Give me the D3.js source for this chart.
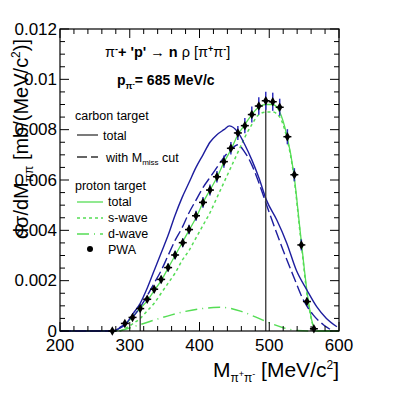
<!doctype html>
<html lang="en">
<head>
  <meta charset="utf-8">
  <title>pi- p -> n pi+ pi-</title>
  <script src="https://cdn.jsdelivr.net/npm/d3@7"></script>
  <style>
    body{margin:0;background:#fff}
    text{font-family:"Liberation Sans",Arial,sans-serif;fill:#000}
  </style>
</head>
<body>
<div id="container"></div>
<script>
// PWA points (proton target)
var pwaX = [275, 293, 304, 315, 325, 335, 345, 355, 365, 376, 385, 395, 405, 415, 425, 435, 445, 455, 465, 475, 485, 495, 505, 515, 526, 536, 546, 554, 564];
var pwaY = [0, 0.0003, 0.00054, 0.00089, 0.00126, 0.00166, 0.00205, 0.00252, 0.00302, 0.00351, 0.00403, 0.00458, 0.00511, 0.0056, 0.00613, 0.00673, 0.00726, 0.00787, 0.00816, 0.0086, 0.00894, 0.00915, 0.00911, 0.00889, 0.00772, 0.00621, 0.00342, 0.00117, 0.00009];
var pwaErr = [0.00005, 0.00008, 0.0001, 0.00012, 0.00013, 0.00014, 0.00015, 0.00016, 0.00017, 0.00018, 0.00019, 0.0002, 0.00021, 0.00022, 0.00023, 0.00024, 0.00025, 0.00028, 0.0003, 0.00032, 0.00035, 0.00036, 0.00036, 0.00034, 0.0003, 0.00026, 0.00022, 0.00015, 0.00008];

// carbon target, total
var carbTotX = [200, 275, 285, 295, 305, 315, 325, 335, 345, 355, 365, 375, 385, 395, 405, 415, 425, 435, 443, 455, 465, 475, 485, 496, 511, 525, 539, 554, 568, 582, 597];
var carbTotY = [0, 0, 0.0001, 0.0003, 0.0007, 0.0011, 0.0017, 0.0024, 0.0031, 0.0038, 0.0046, 0.0053, 0.0059, 0.0065, 0.007, 0.0075, 0.0078, 0.008, 0.00815, 0.0079, 0.0074, 0.0068, 0.0061, 0.0052, 0.0044, 0.0035, 0.0024, 0.00163, 0.00097, 0.0005, 0.00017];
// carbon target, with Mmiss cut
var carbCutX = [200, 278, 286, 295, 305, 315, 325, 335, 345, 355, 365, 375, 385, 395, 405, 415, 425, 435, 445, 455, 465, 475, 485, 495, 504, 520, 535, 549, 563, 578, 587];
var carbCutY = [0, 0, 0.00015, 0.0003, 0.00057, 0.00095, 0.0014, 0.0019, 0.0024, 0.003, 0.0036, 0.0041, 0.0047, 0.0052, 0.0057, 0.0061, 0.0065, 0.0069, 0.0072, 0.0074, 0.0071, 0.0066, 0.0059, 0.0051, 0.0044, 0.0032, 0.00216, 0.00123, 0.00064, 0.00024, 0.00007];

// proton target, total / s-wave / d-wave
var protTotX = [200, 280, 285, 295, 305, 315, 325, 335, 345, 355, 365, 375, 385, 395, 405, 415, 425, 435, 445, 455, 465, 475, 485, 495, 505, 515, 525, 535, 545, 555, 563, 566, 600];
var protTotY = [0, 0, 0.0001, 0.0003, 0.0006, 0.0009, 0.0012, 0.0016, 0.002, 0.0025, 0.003, 0.0035, 0.004, 0.0045, 0.0051, 0.0056, 0.0061, 0.0067, 0.0072, 0.0078, 0.0082, 0.0086, 0.0089, 0.009, 0.009, 0.0087, 0.0078, 0.0063, 0.0038, 0.0014, 0.0002, 0, 0];
var sWaveX = [200, 285, 295, 305, 315, 325, 335, 345, 355, 365, 375, 385, 395, 405, 415, 425, 435, 445, 455, 465, 475, 485, 495, 505, 515, 525, 535, 545, 555, 563, 566, 600];
var sWaveY = [0, 0, 0.00012, 0.0003, 0.0005, 0.0008, 0.0011, 0.0015, 0.0019, 0.0023, 0.0028, 0.0032, 0.0037, 0.0042, 0.0047, 0.0053, 0.0059, 0.0065, 0.0071, 0.0077, 0.0082, 0.0086, 0.0087, 0.0087, 0.0085, 0.0077, 0.0062, 0.0037, 0.0013, 0.0002, 0, 0];
var dWaveX = [285, 300, 320, 340, 360, 380, 400, 420, 430, 440, 460, 480, 500, 520, 540, 560, 600];
var dWaveY = [0, 0.00012, 0.0003, 0.00048, 0.00064, 0.00078, 0.00088, 0.00093, 0.00094, 0.00092, 0.00078, 0.00056, 0.00033, 0.00013, 0.00002, 0, 0];

// marker lines
var markX = [315, 495];
var markTop = [0.00088, 0.0092];

var xTicks = [200, 300, 400, 500, 600];
var yTicks = [0, 0.002, 0.004, 0.006, 0.008, 0.01, 0.012];

var W = 399, H = 397;
var blue = "#1d1d9e", green = "#55dd55";

var svg = d3.select("#container").append("svg").attr("width", W).attr("height", H);

var x = d3.scaleLinear().domain([200, 600]).range([60, 339]),
    y = d3.scaleLinear().domain([0, 0.012]).range([331, 29]);

function pts(xs, ys) { return xs.map(function (v, i) { return [v, ys[i]]; }); }
var line = d3.line().x(function (d) { return x(d[0]); }).y(function (d) { return y(d[1]); }).curve(d3.curveMonotoneX);

var g = svg.append("g");

// curves
g.append("path").attr("d", line(pts(dWaveX, dWaveY))).attr("fill", "none").attr("stroke", green).attr("stroke-width", 1.5).attr("stroke-dasharray", "12,5,1,5");
g.append("path").attr("d", line(pts(sWaveX, sWaveY))).attr("fill", "none").attr("stroke", green).attr("stroke-width", 1.5).attr("stroke-dasharray", "3,3");
g.append("path").attr("d", line(pts(protTotX, protTotY))).attr("fill", "none").attr("stroke", green).attr("stroke-width", 1.3);
g.append("path").attr("d", line(pts(carbTotX, carbTotY))).attr("fill", "none").attr("stroke", blue).attr("stroke-width", 1.4);
g.append("path").attr("d", line(pts(carbCutX, carbCutY))).attr("fill", "none").attr("stroke", blue).attr("stroke-width", 1.4).attr("stroke-dasharray", "11,4");

// vertical marker lines
g.selectAll("line.mark").data(markX).enter().append("line").attr("class", "mark")
  .attr("x1", function (d) { return x(d); }).attr("x2", function (d) { return x(d); })
  .attr("y1", y(0)).attr("y2", function (d, i) { return y(markTop[i]); })
  .attr("stroke", "#333").attr("stroke-width", 1.3);

// PWA points
var pwa = pts(pwaX, pwaY);
g.selectAll("line.err").data(pwa).enter().append("line").attr("class", "err")
  .attr("x1", function (d) { return x(d[0]); }).attr("x2", function (d) { return x(d[0]); })
  .attr("y1", function (d, i) { return y(d[1] - pwaErr[i]); }).attr("y2", function (d, i) { return y(d[1] + pwaErr[i]); })
  .attr("stroke", "#3030c0").attr("stroke-width", 1.5);
g.selectAll("line.xerr").data(pwa).enter().append("line").attr("class", "xerr")
  .attr("x1", function (d) { return x(d[0]) - 4; }).attr("x2", function (d) { return x(d[0]) + 4; })
  .attr("y1", function (d) { return y(d[1]); }).attr("y2", function (d) { return y(d[1]); })
  .attr("stroke", "#000").attr("stroke-width", 1.5);
g.selectAll("path.pt").data(pwa).enter().append("path").attr("class", "pt")
  .attr("d", d3.symbol().type(d3.symbolDiamond).size(26))
  .attr("transform", function (d) { return "translate(" + x(d[0]) + "," + y(d[1]) + ")"; })
  .attr("fill", "#000");

// frame and ticks (ROOT style, ticks inside, mirrored)
svg.append("rect").attr("x", 60).attr("y", 29).attr("width", 279).attr("height", 302)
  .attr("fill", "none").attr("stroke", "#000").attr("stroke-width", 1.2);

var xMinor = d3.range(200, 601, 20), yMinor = d3.range(0, 0.01201, 0.0005);
xMinor.forEach(function (v) {
  var L = (v % 100 === 0) ? 9 : 5;
  svg.append("line").attr("x1", x(v)).attr("x2", x(v)).attr("y1", 331).attr("y2", 331 - L).attr("stroke", "#000");
  svg.append("line").attr("x1", x(v)).attr("x2", x(v)).attr("y1", 29).attr("y2", 29 + L).attr("stroke", "#000");
});
yMinor.forEach(function (v, i) {
  var L = (i % 4 === 0) ? 9 : 5;
  svg.append("line").attr("x1", 60).attr("x2", 60 + L).attr("y1", y(v)).attr("y2", y(v)).attr("stroke", "#000");
  svg.append("line").attr("x1", 339).attr("x2", 339 - L).attr("y1", y(v)).attr("y2", y(v)).attr("stroke", "#000");
});

// tick labels
svg.selectAll("text.xt").data(xTicks).enter().append("text").attr("class", "xt")
  .attr("x", function (d) { return x(d); }).attr("y", 351).attr("text-anchor", "middle")
  .style("font-size", "17px").text(function (d) { return d; });
svg.selectAll("text.yt").data(yTicks).enter().append("text").attr("class", "yt")
  .attr("x", 57).attr("y", function (d) { return y(d) + 5.5; }).attr("text-anchor", "end")
  .style("font-size", "17px").text(function (d) { return d3.format("")(+d.toFixed(3)); });

// axis titles
var xt = svg.append("text").attr("x", 339).attr("y", 377).attr("text-anchor", "end").style("font-size", "21px");
xt.append("tspan").text("M");
xt.append("tspan").attr("dy", 5).style("font-size", "12px").text("\u03c0");
xt.append("tspan").attr("dy", -5).style("font-size", "9px").text("+");
xt.append("tspan").attr("dy", 5).style("font-size", "12px").text("\u03c0");
xt.append("tspan").attr("dy", -5).style("font-size", "9px").text("-");
xt.append("tspan").attr("dy", 0).text(" [MeV/c");
xt.append("tspan").attr("dy", -8).style("font-size", "12px").text("2");
xt.append("tspan").attr("dy", 8).text("]");

var yt = svg.append("text").attr("transform", "translate(28,139) rotate(-90)").attr("text-anchor", "middle").style("font-size", "20px");
yt.append("tspan").text("d\u03c3/dM");
yt.append("tspan").attr("dy", 5).style("font-size", "12px").text("\u03c0\u03c0");
yt.append("tspan").attr("dy", -5).text(" [mb/(MeV/c");
yt.append("tspan").attr("dy", -8).style("font-size", "12px").text("2");
yt.append("tspan").attr("dy", 8).text(")]");

// reaction label
var t1 = svg.append("text").attr("x", 105).attr("y", 57).style("font-size", "14.5px").style("font-weight", "bold");
t1.append("tspan").style("font-weight", "normal").text("\u03c0");
t1.append("tspan").attr("dy", -5).style("font-size", "9px").text("-");
t1.append("tspan").attr("dy", 5).text("+ 'p' ");
t1.append("tspan").style("font-weight", "normal").text("\u2192");
t1.append("tspan").text(" n ");
t1.append("tspan").style("font-weight", "normal").text("\u03c1 [\u03c0");
t1.append("tspan").attr("dy", -5).style("font-size", "9px").text("+");
t1.append("tspan").attr("dy", 5).style("font-weight", "normal").text("\u03c0");
t1.append("tspan").attr("dy", -5).style("font-size", "9px").text("-");
t1.append("tspan").attr("dy", 5).style("font-weight", "normal").text("]");

var t2 = svg.append("text").attr("x", 117).attr("y", 85).style("font-size", "14px").style("font-weight", "bold");
t2.append("tspan").text("p");
t2.append("tspan").attr("dy", 4).style("font-size", "9px").text("\u03c0");
t2.append("tspan").attr("dy", -3).style("font-size", "7px").text("-");
t2.append("tspan").attr("dy", -1).text("= 685 MeV/c");

// legend
var lg = svg.append("g").style("font-size", "12.5px");
lg.append("text").attr("x", 75).attr("y", 120).text("carbon target");
lg.append("line").attr("x1", 77).attr("x2", 98).attr("y1", 135).attr("y2", 135).attr("stroke", "#333").attr("stroke-width", 1.3);
lg.append("text").attr("x", 103).attr("y", 140).text("total");
lg.append("line").attr("x1", 77).attr("x2", 98).attr("y1", 157).attr("y2", 157).attr("stroke", "#333").attr("stroke-width", 1.3).attr("stroke-dasharray", "10,4,4,0");
var lt = lg.append("text").attr("x", 106).attr("y", 162);
lt.append("tspan").text("with M");
lt.append("tspan").attr("dy", 3).style("font-size", "8px").text("miss");
lt.append("tspan").attr("dy", -3).text(" cut");
lg.append("text").attr("x", 75).attr("y", 190).text("proton target");
lg.append("line").attr("x1", 77).attr("x2", 103).attr("y1", 202).attr("y2", 202).attr("stroke", green).attr("stroke-width", 1.3);
lg.append("text").attr("x", 108).attr("y", 206).text("total");
lg.append("line").attr("x1", 77).attr("x2", 103).attr("y1", 218).attr("y2", 218).attr("stroke", green).attr("stroke-width", 1.5).attr("stroke-dasharray", "3,3");
lg.append("text").attr("x", 108).attr("y", 222).text("s-wave");
lg.append("line").attr("x1", 77).attr("x2", 103).attr("y1", 234).attr("y2", 234).attr("stroke", green).attr("stroke-width", 1.5).attr("stroke-dasharray", "12,5,1,5");
lg.append("text").attr("x", 108).attr("y", 238).text("d-wave");
lg.append("circle").attr("cx", 90).attr("cy", 249).attr("r", 3).attr("fill", "#000");
lg.append("text").attr("x", 108).attr("y", 254).text("PWA");
</script>
</body>
</html>
